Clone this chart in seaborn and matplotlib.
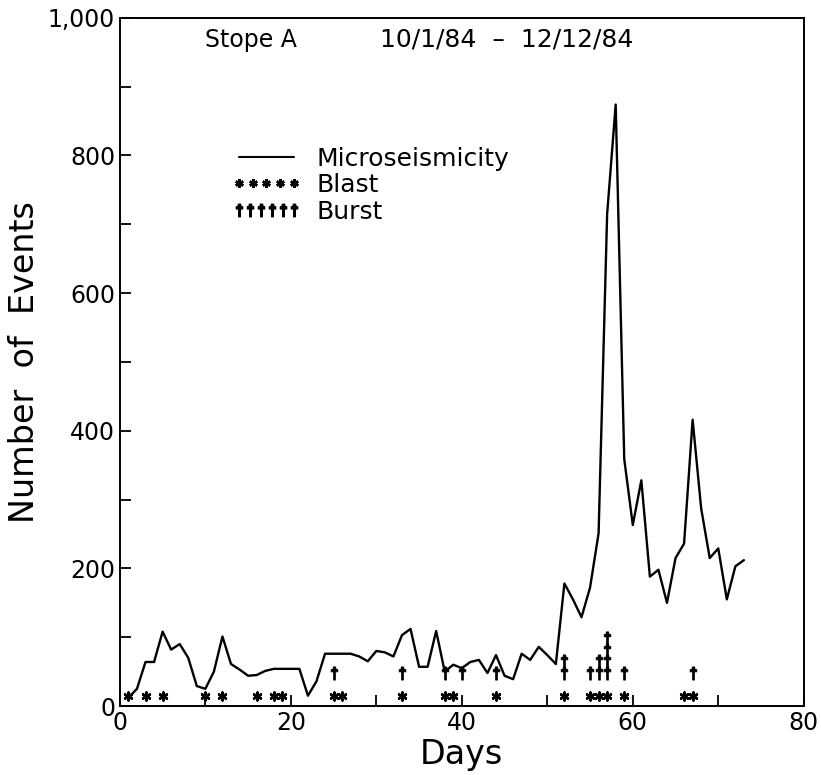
import matplotlib
matplotlib.use("Agg")
import matplotlib.pyplot as plt
import seaborn as sns
import numpy as np
import pandas as pd
from matplotlib.path import Path
from matplotlib.markers import MarkerStyle
from matplotlib.lines import Line2D
from matplotlib.legend_handler import HandlerLine2D
from matplotlib.ticker import MultipleLocator, StrMethodFormatter

# 数据准备
days = list(range(1, 74))
events = [12, 25, 64, 64, 108, 82, 90, 70, 29, 25,
          50, 101, 61, 53, 44, 45, 51, 54, 54, 54,
          54, 15, 36, 76, 76, 76, 76, 72, 65, 80,
          78, 72, 103, 112, 57, 57, 109, 50, 60, 55,
          64, 67, 48, 74, 44, 39, 76, 67, 86, 74,
          61, 178, 155, 129, 172, 251, 715, 874, 359, 263,
          328, 188, 198, 150, 215, 236, 416, 287, 215, 229,
          155, 203, 212]
blast_days = [1, 3, 5, 10, 12, 16, 18, 19, 25, 26, 33, 38, 39, 44,
              52, 55, 56, 57, 59, 66, 67]
burst_days = [25, 33, 38, 40, 44, 52, 52, 55, 56, 56, 57, 57, 57, 57, 59, 67]


def stack(day_list, base, step):
    # repeated days are stacked upward
    seen = {}
    ys = []
    for d in day_list:
        n = seen.get(d, 0)
        ys.append(base + n * step)
        seen[d] = n + 1
    return ys


df_line = pd.DataFrame({"day": days, "events": events})
df_blast = pd.DataFrame({"day": blast_days, "y": stack(blast_days, 15, 0)})
df_burst = pd.DataFrame({"day": burst_days, "y": stack(burst_days, 48, 17)})

sns.set_theme(style="ticks")
plt.rcParams["font.family"] = ["DejaVu Sans"]
plt.rcParams["text.color"] = "black"
plt.rcParams["axes.labelcolor"] = "black"

# burst symbol: dagger-like mark
verts = [(-0.13, -1), (0.13, -1), (0.13, 0.25), (0.5, 0.25), (0.5, 0.6),
         (0.25, 0.6), (0.17, 1.0), (-0.17, 1.0), (-0.25, 0.6), (-0.5, 0.6),
         (-0.5, 0.25), (-0.13, 0.25), (-0.13, -1)]
burst_marker = MarkerStyle(Path(verts, closed=True))
blast_marker = (6, 2, 0)

fig = plt.figure(figsize=(8.21, 7.75), dpi=100)
ax = fig.add_axes([0.146, 0.089, 0.833, 0.888])

sns.lineplot(data=df_line, x="day", y="events", color="black", lw=1.7, ax=ax)
sns.scatterplot(data=df_blast, x="day", y="y", marker=blast_marker, s=32,
                color="black", linewidth=1.8, ax=ax)
sns.scatterplot(data=df_burst, x="day", y="y", marker=burst_marker, s=90,
                color="black", edgecolor="black", linewidth=0.6, ax=ax)

ax.set_xlim(0, 80)
ax.set_ylim(0, 1000)
ax.xaxis.set_major_locator(MultipleLocator(20))
ax.xaxis.set_minor_locator(MultipleLocator(10))
ax.yaxis.set_major_locator(MultipleLocator(200))
ax.yaxis.set_minor_locator(MultipleLocator(100))
ax.yaxis.set_major_formatter(StrMethodFormatter("{x:,.0f}"))
ax.tick_params(which="both", direction="in", length=8, width=1.3,
               colors="black", labelsize=17, top=False, right=False)
for sp in ax.spines.values():
    sp.set_color("black")
    sp.set_linewidth(1.4)

ax.set_xlabel("Days", fontsize=24, labelpad=2)
ax.set_ylabel("Number  of  Events", fontsize=24, labelpad=5)

ax.text(0.124, 0.968, "Stope A", transform=ax.transAxes, fontsize=17,
        ha="left", va="center")
ax.text(0.38, 0.968, "10/1/84  \u2013  12/12/84", transform=ax.transAxes,
        fontsize=18, ha="left", va="center")

h_line = Line2D([], [], color="black", lw=1.5)
h_blast = Line2D([], [], ls="none", marker=blast_marker, color="black",
                 markersize=6, markeredgewidth=1.8)
h_burst = Line2D([], [], ls="none", marker=burst_marker, color="black",
                 markersize=9)
ax.legend([h_line, h_blast, h_burst], ["Microseismicity", "Blast", "Burst"],
          loc="upper left", bbox_to_anchor=(0.163, 0.813), frameon=False,
          fontsize=18, handlelength=2.8, handletextpad=0.6, labelspacing=0.1,
          borderpad=0, borderaxespad=0, numpoints=5,
          handler_map={h_burst: HandlerLine2D(numpoints=6)})

fig.savefig("out.png", dpi=100)
